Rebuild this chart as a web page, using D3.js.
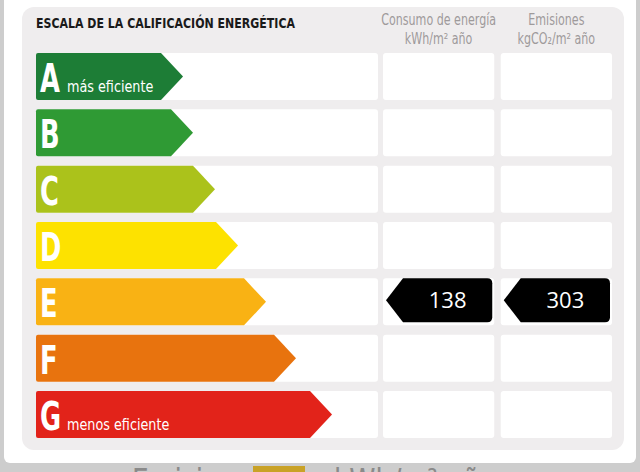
<!DOCTYPE html>
<html>
<head>
<meta charset="utf-8">
<script src="https://cdn.jsdelivr.net/npm/d3@7"></script>
<style>
  html, body { margin: 0; padding: 0; background: #cfcfcf; }
  svg { display: block; }
</style>
</head>
<body>
<div id="chart"></div>
<script>
// energy rating classes, top (best) to bottom (worst)
var classes = ["A", "B", "C", "D", "E", "F", "G"];
var classNotes = ["más eficiente", "", "", "", "", "", "menos eficiente"];
var classColors = ["#1d7d36", "#2f9a34", "#abc21b", "#fde200", "#f9b214", "#e8730e", "#e2231a"];
// length of each arrow, in the same units as the bar column (0..342)
var barLength = [147, 157, 179, 202, 230, 260, 296];

// the building's rating and its two values
var rating = "E";
var consumo = 138;
var emisiones = 303;

var title = "ESCALA DE LA CALIFICACIÓN ENERGÉTICA";
var colHeaders = [["Consumo de energía", "kWh/m² año"], ["Emisiones", "kgCO₂/m² año"]];

var width = 640, height = 472;
var font = "'DejaVu Sans', 'Liberation Sans', sans-serif";

var svg = d3.select("#chart").append("svg")
    .attr("width", width)
    .attr("height", height);

// squeezed text, to look like the condensed face of the label
function narrowText(parent, x, y, sx, str) {
    return parent.append("text")
        .attr("transform", "translate(" + x + "," + y + ") scale(" + sx + ",1)")
        .attr("font-family", font)
        .text(str);
}

// page behind the popup
svg.append("rect")
    .attr("width", width).attr("height", height)
    .attr("fill", "#cdcdcd");

var behind = svg.append("g").attr("fill", "#8a8a8a");
narrowText(behind, 132, 493, 0.78, "Emisiones").attr("font-size", 34);
behind.append("rect").attr("x", 253).attr("y", 466).attr("width", 52).attr("height", 20).attr("fill", "#c9a227");
narrowText(behind, 334, 493, 0.78, "kWh/m² año").attr("font-size", 34);

// popup frame
svg.append("rect")
    .attr("x", 4).attr("y", -12)
    .attr("width", 632).attr("height", 475)
    .attr("rx", 6)
    .attr("fill", "#ffffff");

// grey card
svg.append("rect")
    .attr("x", 22).attr("y", 7)
    .attr("width", 602).attr("height", 443)
    .attr("rx", 12)
    .attr("fill", "#efedee");

svg.append("text")
    .attr("x", 36).attr("y", 28)
    .attr("font-family", font)
    .attr("font-weight", "bold")
    .attr("font-size", 14)
    .attr("fill", "#1a1a1a")
    .attr("textLength", 259)
    .attr("lengthAdjust", "spacingAndGlyphs")
    .text(title);

// scales
var y = d3.scaleBand()
    .domain(classes)
    .range([53, 438])
    .paddingInner(0.165)
    .paddingOuter(0);

var x = d3.scaleLinear()
    .domain([0, 342])
    .range([36, 378]);

var cols = d3.scaleBand()
    .domain([0, 1])
    .range([383, 612])
    .paddingInner(0.055);

// column headers
colHeaders.forEach(function (lines, i) {
    var cx = cols(i) + cols.bandwidth() / 2;
    lines.forEach(function (line, j) {
        narrowText(svg, cx, 25 + j * 19, 0.74, line)
            .attr("text-anchor", "middle")
            .attr("font-size", 15)
            .attr("fill", "#9e9a9b");
    });
});

var rows = svg.selectAll("g.row")
    .data(classes)
    .enter()
    .append("g")
    .attr("class", "row")
    .attr("transform", function (d) { return "translate(0," + y(d) + ")"; });

var h = y.bandwidth();

// white cells
rows.append("rect")
    .attr("x", x(0)).attr("width", x(342) - x(0))
    .attr("height", h).attr("rx", 3)
    .attr("fill", "#ffffff");

[0, 1].forEach(function (c) {
    rows.append("rect")
        .attr("x", cols(c)).attr("width", cols.bandwidth())
        .attr("height", h).attr("rx", 3)
        .attr("fill", "#ffffff");
});

// class arrows
var tip = 22;
rows.append("path")
    .attr("fill", function (d, i) { return classColors[i]; })
    .attr("d", function (d, i) {
        var x0 = x(0), x1 = x(barLength[i]);
        return "M" + (x0 + 2) + ",0" +
            "L" + (x1 - tip) + ",0" +
            "L" + x1 + "," + (h / 2) +
            "L" + (x1 - tip) + "," + h +
            "L" + (x0 + 2) + "," + h +
            "Q" + x0 + "," + h + " " + x0 + "," + (h - 2) +
            "L" + x0 + ",2" +
            "Q" + x0 + ",0 " + (x0 + 2) + ",0Z";
    });

rows.each(function (d, i) {
    var g = d3.select(this);
    narrowText(g, x(0) + 4, h - 8, 0.66, d)
        .attr("font-weight", "bold")
        .attr("font-size", 39)
        .attr("fill", "#ffffff");
    if (classNotes[i]) {
        narrowText(g, x(0) + 31, h - 8, 0.8, classNotes[i])
            .attr("font-size", 16)
            .attr("fill", "#ffffff");
    }
});

// value markers on the building's row
var values = [consumo, emisiones];
var vy = y(rating), vh = h - 3;
values.forEach(function (v, c) {
    var left = cols(c) + 3, right = cols(c) + cols.bandwidth() - 2;
    var r = 5, notch = 17;
    svg.append("path")
        .attr("fill", "#000000")
        .attr("d",
            "M" + left + "," + (vy + vh / 2) +
            "L" + (left + notch) + "," + vy +
            "L" + (right - r) + "," + vy +
            "Q" + right + "," + vy + " " + right + "," + (vy + r) +
            "L" + right + "," + (vy + vh - r) +
            "Q" + right + "," + (vy + vh) + " " + (right - r) + "," + (vy + vh) +
            "L" + (left + notch) + "," + (vy + vh) + "Z");
    svg.append("text")
        .attr("x", (left + notch + right) / 2)
        .attr("y", vy + vh / 2 + 8)
        .attr("text-anchor", "middle")
        .attr("font-family", "'Open Sans', 'Noto Sans', sans-serif")
        .attr("font-size", 22)
        .attr("fill", "#ffffff")
        .text(v);
});
</script>
</body>
</html>
